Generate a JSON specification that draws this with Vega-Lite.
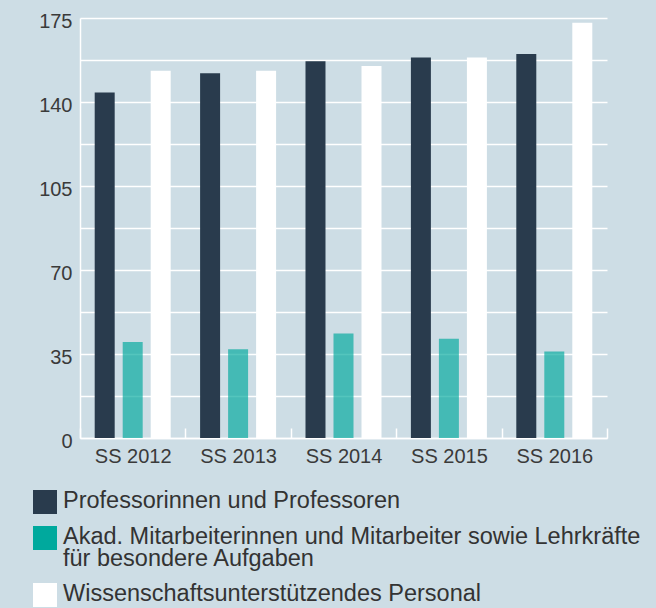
{
  "$schema": "https://vega.github.io/schema/vega-lite/v6.json",
  "width": 527,
  "height": 420,
  "autosize": {"type": "none"},
  "padding": {"left": 80, "top": 18, "right": 49, "bottom": 170},
  "background": "#cddde5",
  "config": {"view": {"stroke": null}, "font": "Liberation Sans"},
  "data": {
    "values": [
      {"year": "SS 2012", "cat": "Professorinnen und Professoren", "value": 144},
      {"year": "SS 2012", "cat": "Akad. Mitarbeiterinnen und Mitarbeiter sowie Lehrkräfte für besondere Aufgaben", "value": 40},
      {"year": "SS 2012", "cat": "Wissenschaftsunterstützendes Personal", "value": 153},
      {"year": "SS 2013", "cat": "Professorinnen und Professoren", "value": 152},
      {"year": "SS 2013", "cat": "Akad. Mitarbeiterinnen und Mitarbeiter sowie Lehrkräfte für besondere Aufgaben", "value": 37},
      {"year": "SS 2013", "cat": "Wissenschaftsunterstützendes Personal", "value": 153},
      {"year": "SS 2014", "cat": "Professorinnen und Professoren", "value": 157},
      {"year": "SS 2014", "cat": "Akad. Mitarbeiterinnen und Mitarbeiter sowie Lehrkräfte für besondere Aufgaben", "value": 43.5},
      {"year": "SS 2014", "cat": "Wissenschaftsunterstützendes Personal", "value": 155},
      {"year": "SS 2015", "cat": "Professorinnen und Professoren", "value": 158.5},
      {"year": "SS 2015", "cat": "Akad. Mitarbeiterinnen und Mitarbeiter sowie Lehrkräfte für besondere Aufgaben", "value": 41.4},
      {"year": "SS 2015", "cat": "Wissenschaftsunterstützendes Personal", "value": 158.5},
      {"year": "SS 2016", "cat": "Professorinnen und Professoren", "value": 160},
      {"year": "SS 2016", "cat": "Akad. Mitarbeiterinnen und Mitarbeiter sowie Lehrkräfte für besondere Aufgaben", "value": 36},
      {"year": "SS 2016", "cat": "Wissenschaftsunterstützendes Personal", "value": 173}
    ]
  },
  "mark": {"type": "bar"},
  "encoding": {
    "x": {
      "field": "year",
      "type": "nominal",
      "scale": {"paddingInner": 0, "paddingOuter": 0},
      "axis": {
        "title": null,
        "labelAngle": 0,
        "labelFontSize": 20,
        "labelColor": "#3a3a3a",
        "labelPadding": 18,
        "domainColor": "#ffffff",
        "domainWidth": 1.5,
        "ticks": true,
        "tickBand": "extent",
        "tickSize": -10,
        "tickColor": "#ffffff",
        "tickWidth": 1.5,
        "grid": false
      }
    },
    "xOffset": {
      "field": "cat",
      "type": "nominal",
      "sort": ["Professorinnen und Professoren", "Akad. Mitarbeiterinnen und Mitarbeiter sowie Lehrkräfte für besondere Aufgaben", "Wissenschaftsunterstützendes Personal"],
      "scale": {"paddingInner": 0.286, "paddingOuter": 0.525}
    },
    "y": {
      "field": "value",
      "type": "quantitative",
      "scale": {"domain": [0, 175], "nice": false},
      "axis": {
        "title": null,
        "values": [0, 17.5, 35, 52.5, 70, 87.5, 105, 122.5, 140, 157.5, 175],
        "labelExpr": "datum.value % 35 === 0 ? datum.label : ''",
        "labelFontSize": 20,
        "labelColor": "#3a3a3a",
        "labelPadding": 8,
        "labelOffset": 3,
        "ticks": false,
        "domain": true,
        "domainColor": "#ffffff",
        "domainWidth": 1.5,
        "grid": true,
        "gridColor": "#ffffff",
        "gridWidth": 1.5,
        "gridOpacity": 1
      }
    },
    "color": {
      "field": "cat",
      "type": "nominal",
      "sort": ["Professorinnen und Professoren", "Akad. Mitarbeiterinnen und Mitarbeiter sowie Lehrkräfte für besondere Aufgaben", "Wissenschaftsunterstützendes Personal"],
      "scale": {
        "domain": ["Professorinnen und Professoren", "Akad. Mitarbeiterinnen und Mitarbeiter sowie Lehrkräfte für besondere Aufgaben", "Wissenschaftsunterstützendes Personal"],
        "range": ["#293b4d", "#00a99d", "#ffffff"]
      },
      "legend": {
        "orient": "none",
        "legendX": -47,
        "legendY": 472,
        "direction": "vertical",
        "title": null,
        "padding": 0,
        "symbolType": "square",
        "symbolSize": 576,
        "symbolStrokeWidth": 0,
        "symbolOpacity": 1,
        "labelFontSize": 23.5,
        "labelColor": "#333333",
        "labelLimit": 800,
        "labelOffset": 6,
        "rowPadding": 11,
        "labelBaseline": "top",
        "labelExpr": "datum.label === 'Akad. Mitarbeiterinnen und Mitarbeiter sowie Lehrkräfte für besondere Aufgaben' ? ['Akad. Mitarbeiterinnen und Mitarbeiter sowie Lehrkräfte', 'für besondere Aufgaben'] : datum.label",
        "encode": {
          "labels": {
            "update": {
              "dy": {"value": -13},
              "lineHeight": {"value": 22}
            }
          }
        }
      }
    },
    "opacity": {
      "condition": {"test": "datum.cat === 'Akad. Mitarbeiterinnen und Mitarbeiter sowie Lehrkräfte für besondere Aufgaben'", "value": 0.67},
      "value": 1
    }
  }
}
